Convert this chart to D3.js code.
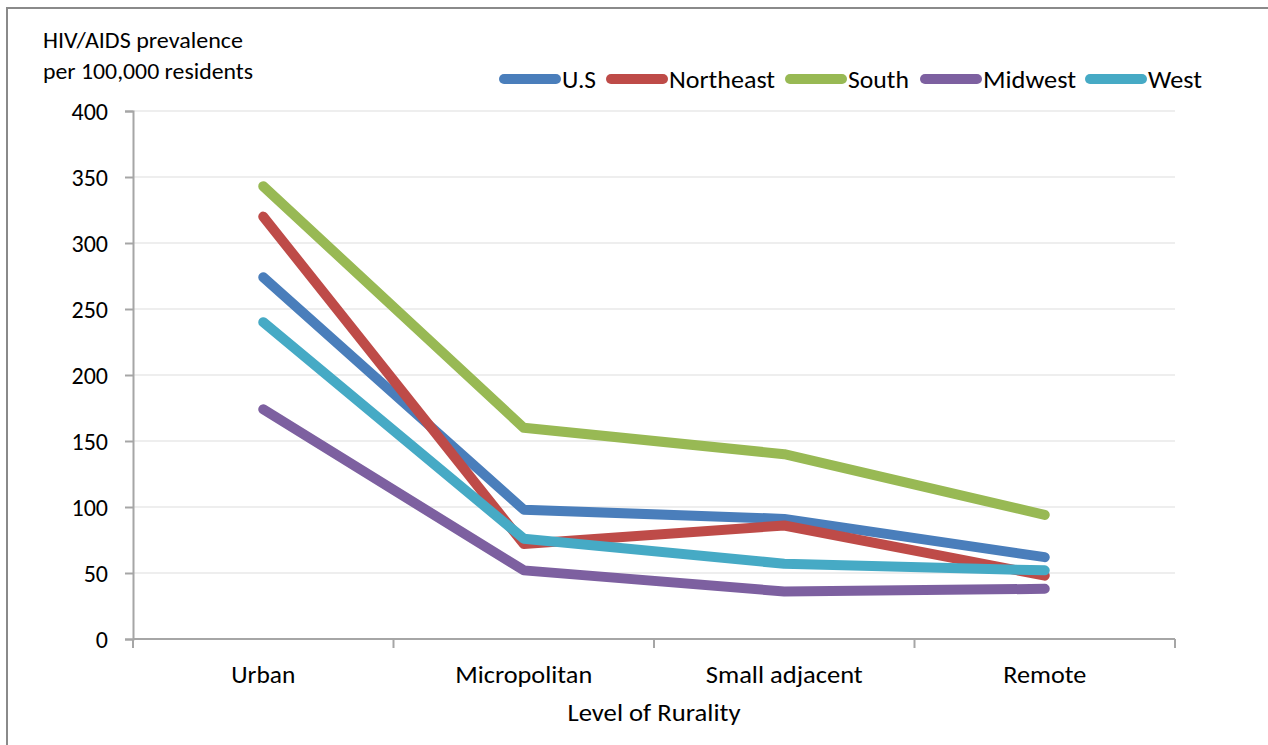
<!DOCTYPE html>
<html><head><meta charset="utf-8">
<script src="https://cdn.jsdelivr.net/npm/d3@7"></script>
<style>
html,body{margin:0;padding:0;background:#fff;}
svg text{font-family:Carlito,Lato,"Open Sans",sans-serif;fill:#000;}
</style></head>
<body>
<svg id="c" width="1268" height="745"></svg>
<script>
const categories = ["Urban", "Micropolitan", "Small adjacent", "Remote"];
const seriesNames = ["U.S", "Northeast", "South", "Midwest", "West"];
const usValues = [274, 98, 91, 62];
const northeastValues = [320, 72, 86, 48];
const southValues = [343, 160, 140, 94];
const midwestValues = [174, 52, 36, 38];
const westValues = [240, 76, 57, 52];
const yTicks = [0, 50, 100, 150, 200, 250, 300, 350, 400];
const colors = ["#4A7EBB", "#BE4B48", "#98B954", "#7D60A0", "#46AAC5"];

const seriesValues = [usValues, northeastValues, southValues, midwestValues, westValues];
const series = seriesNames.map((n, i) => ({name: n, values: seriesValues[i], color: colors[i]}));

const svg = d3.select("#c");
// outer border
svg.append("rect").attr("x", 7).attr("y", 8).attr("width", 1290).attr("height", 770)
  .attr("fill", "none").attr("stroke", "#8a8a8a").attr("stroke-width", 2);

const x = d3.scaleBand().domain(categories).range([133, 1175]);
const y = d3.scaleLinear().domain([0, 400]).range([639, 111]);

// gridlines
svg.append("g").selectAll("line").data(yTicks.filter(t => t > 0)).join("line")
  .attr("x1", 133).attr("x2", 1175).attr("y1", d => y(d)).attr("y2", d => y(d))
  .attr("stroke", "#eeeeee").attr("stroke-width", 2);

// y axis
const ya = svg.append("g").attr("transform", "translate(133,0)")
  .call(d3.axisLeft(y).tickValues(yTicks).tickSize(8).tickPadding(17));
ya.select(".domain").attr("stroke", "#a6a6a6").attr("stroke-width", 2);
ya.selectAll(".tick line").attr("stroke", "#a6a6a6").attr("stroke-width", 2);
ya.selectAll(".tick text").attr("font-size", 24).attr("font-family", null).attr("dy", "0.35em");

// x axis
const xa = svg.append("g").attr("transform", "translate(0,639)");
xa.append("line").attr("x1", 133).attr("x2", 1175).attr("stroke", "#a6a6a6").attr("stroke-width", 2);
const bounds = categories.map(c => x(c)).concat([x.range()[1]]);
xa.selectAll("line.tk").data(bounds).join("line").attr("class", "tk")
  .attr("x1", d => d).attr("x2", d => d).attr("y1", 0).attr("y2", 9)
  .attr("stroke", "#a6a6a6").attr("stroke-width", 2);
const catWidths = [64, 137, 157, 83];
xa.selectAll("text").data(categories).join("text")
  .attr("x", d => x(d) + x.bandwidth() / 2).attr("y", 44)
  .attr("text-anchor", "middle").attr("font-size", 24)
  .attr("textLength", (d, i) => catWidths[i]).attr("lengthAdjust", "spacingAndGlyphs")
  .text(d => d);

svg.append("text").attr("x", 654).attr("y", 721).attr("text-anchor", "middle")
  .attr("font-size", 24).attr("textLength", 173).attr("lengthAdjust", "spacingAndGlyphs")
  .text("Level of Rurality");

// y title
svg.append("text").attr("x", 43).attr("y", 48).attr("font-size", 22)
  .attr("textLength", 200).attr("lengthAdjust", "spacingAndGlyphs").text("HIV/AIDS prevalence");
svg.append("text").attr("x", 43).attr("y", 79).attr("font-size", 22)
  .attr("textLength", 210).attr("lengthAdjust", "spacingAndGlyphs").text("per 100,000 residents");

// lines
const line = d3.line().x((d, i) => x(categories[i]) + x.bandwidth() / 2).y(d => y(d));
svg.append("g").selectAll("path").data(series).join("path")
  .attr("d", d => line(d.values)).attr("fill", "none")
  .attr("stroke", d => d.color).attr("stroke-width", 10)
  .attr("stroke-linecap", "round").attr("stroke-linejoin", "round");

// legend
const legX = [500, 607, 786, 921, 1086];
const legW = [34, 106, 61, 93, 54];
const lg = svg.append("g").selectAll("g").data(series).join("g")
  .attr("transform", (d, i) => `translate(${legX[i]},79)`);
lg.append("line").attr("x1", 4).attr("x2", 56).attr("stroke", d => d.color)
  .attr("stroke-width", 10).attr("stroke-linecap", "round");
lg.append("text").attr("x", 62).attr("y", 8.5).attr("font-size", 24.5)
  .attr("textLength", (d, i) => legW[i]).attr("lengthAdjust", "spacingAndGlyphs")
  .text(d => d.name);
</script>
</body></html>
